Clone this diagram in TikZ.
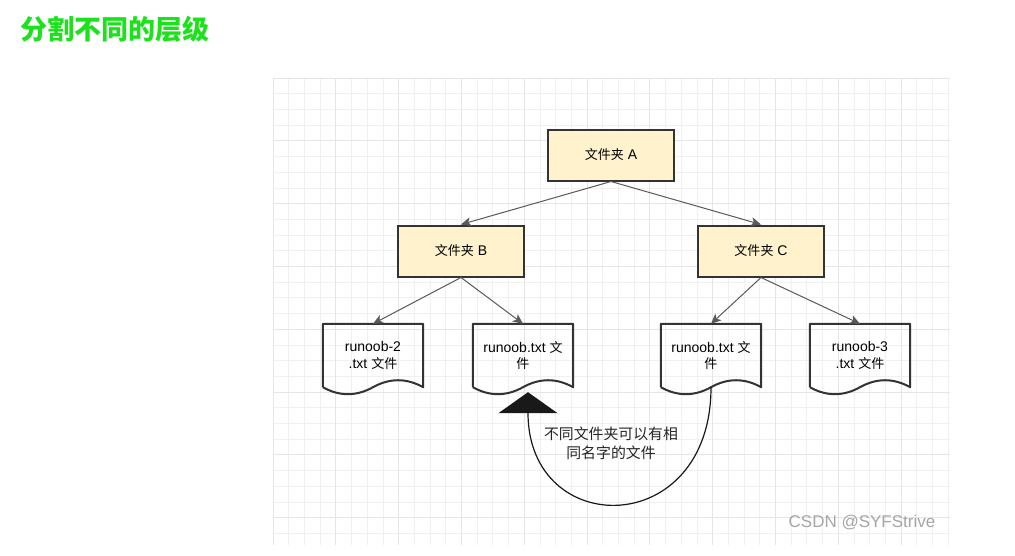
\documentclass[tikz,border=0pt]{standalone}
\usepackage{fontspec}
\setmainfont{Liberation Sans}
\newfontfamily\cjk[Scale=0.93]{Noto Sans CJK SC}
\usetikzlibrary{arrows.meta, positioning, calc}
\definecolor{titlegreen}{RGB}{28,226,28}
\definecolor{folderfill}{RGB}{255,242,204}
\definecolor{gridminor}{RGB}{240,240,240}
\definecolor{gridmajor}{RGB}{229,229,229}

\begin{document}
\begin{tikzpicture}[
  x=1pt, y=-1pt,
  folder/.style = {draw=black!80, line width=2pt, fill=folderfill, minimum width=126pt, minimum height=51pt, font=\fontsize{14}{17}\selectfont},
  doc/.style = {minimum width=100pt, minimum height=63pt, inner sep=0pt, align=center, font=\fontsize{14}{17}\selectfont},
  docline/.style = {draw=black!80, line width=2pt, line join=round},
  edge/.style = {draw=black!65, line width=1pt, -{Stealth[length=10pt,width=9pt,inset=2.5pt]}},
  note arrow/.style = {draw=black!90, line width=1.2pt, -{Triangle[length=21pt,width=59pt]}},
  gridline/.style = {draw=gridminor, line width=0.7pt}
  ]
  \fill[white] (0,0) rectangle (1015,555);
  \useasboundingbox (0,0) rectangle (1015,555);

  % grid of the drawing area
  \foreach \i in {0,...,43} \draw[gridline] ({273+15.7*\i},78) -- ({273+15.7*\i},545);
  \foreach \j in {0,...,29} \draw[gridline] (273,{78+15.7*\j}) -- (950,{78+15.7*\j});
  \foreach \i in {0,4,...,40} \draw[gridline, draw=gridmajor] ({273+15.7*\i},78) -- ({273+15.7*\i},545);
  \foreach \j in {0,4,...,28} \draw[gridline, draw=gridmajor] (273,{78+15.7*\j}) -- (950,{78+15.7*\j});

  \node[anchor=west, inner sep=0pt, text=titlegreen, font=\cjk\bfseries\fontsize{29}{32}\selectfont] (@title) at (20,29) {分割不同的层级};

  \node[folder] (@A) at (611,155) {{\cjk 文件夹} A};
  \node[folder] (@B) at (461,251) {{\cjk 文件夹} B};
  \node[folder] (@C) at (761,251) {{\cjk 文件夹} C};

  \node[doc] (@r2) at (373,355.5) {runoob-2\\.txt {\cjk 文件}};
  \node[doc] (@rb) at (523,355.5) {runoob.txt {\cjk 文}\\{\cjk 件}};
  \node[doc] (@rc) at (711,355.5) {runoob.txt {\cjk 文}\\{\cjk 件}};
  \node[doc] (@r3) at (860,355.5) {runoob-3\\.txt {\cjk 文件}};

  \foreach \d in {@r2,@rb,@rc,@r3}
    \draw[docline] (\d.south west) -- (\d.north west) -- (\d.north east) -- (\d.south east)
      .. controls ([shift={(-16.7,-9.3)}]\d.south east) and ([shift={(16.7,-9.3)}]\d.south) .. (\d.south)
      .. controls ([shift={(-16.7,9.3)}]\d.south) and ([shift={(16.7,9.3)}]\d.south west) .. (\d.south west);

  \draw[edge] (@A.south) -- (@B.north);
  \draw[edge] (@A.south) -- (@C.north);
  \draw[edge] (@B.south) -- (@r2.north);
  \draw[edge] (@B.south) -- (@rb.north);
  \draw[edge] (@C.south) -- (@rc.north);
  \draw[edge] (@C.south) -- (@r3.north);

  \coordinate (tipB) at ([shift={(5,5)}]@rb.south);
  \draw[note arrow] (@rc.south) .. controls ($(@rc.south)+(0,153)$) and ($(tipB)+(0,148)$) .. (tipB);
  \node[align=center, font=\cjk\fontsize{16}{19}\selectfont, text=black!85] (@note) at (611,443) {不同文件夹可以有相\\同名字的文件};

  \node[text=black!35, font=\fontsize{17}{20}\selectfont] (@mark) at (862,523) {CSDN @SYFStrive};
\end{tikzpicture}
\end{document}
